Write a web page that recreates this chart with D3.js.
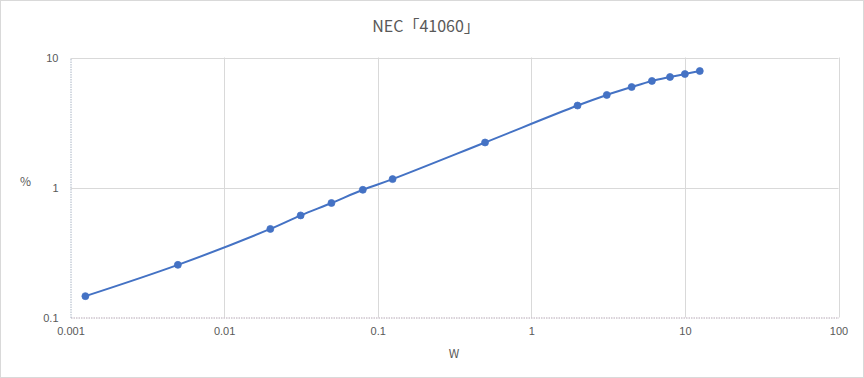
<!DOCTYPE html>
<html lang="ja">
<head>
  <meta charset="UTF-8">
  <title>NEC「41060」</title>
  <script src="https://d3js.org/d3.v7.min.js"></script>
  <style>
    body { margin: 0; background: #fff; }
    svg { display: block; font-family: "Noto Sans CJK JP", "Noto Sans", sans-serif; }
    .tick text { fill: #595959; font-size: 11px; }
  </style>
</head>
<body>
  <svg width="864" height="378"></svg>
  <script>
    // data
    const watts   = [0.00125, 0.005, 0.02, 0.0315, 0.05, 0.08, 0.125, 0.5, 2, 3.1, 4.5, 6.1, 8, 10, 12.5];
    const percent = [0.146, 0.254, 0.48, 0.61, 0.76, 0.96, 1.16, 2.22, 4.27, 5.15, 5.93, 6.6, 7.08, 7.46, 7.87];
    const xTicks = [0.001, 0.01, 0.1, 1, 10, 100];
    const yTicks = [0.1, 1, 10];

    const data = watts.map((w, i) => ({ w: w, p: percent[i] }));

    const svg = d3.select("svg"),
          width = +svg.attr("width"),
          height = +svg.attr("height");

    const margin = { left: 70.5, right: 25.5, top: 57.5, bottom: 60.5 };

    svg.append("rect")
      .attr("x", 0.5).attr("y", 0.5)
      .attr("width", width - 1).attr("height", height - 1)
      .attr("fill", "#fff").attr("stroke", "#d9d9d9");

    const x = d3.scaleLog().domain([0.001, 100]).range([margin.left, width - margin.right]);
    const y = d3.scaleLog().domain([0.1, 10]).range([height - margin.bottom, margin.top]);

    // gridlines
    svg.append("g")
      .selectAll("line")
      .data(xTicks.slice(1))
      .enter().append("line")
        .attr("x1", d => Math.round(x(d)) + 0.5).attr("x2", d => Math.round(x(d)) + 0.5)
        .attr("y1", y(10)).attr("y2", y(0.1))
        .attr("stroke", "#d9d9d9");
    svg.append("g")
      .selectAll("line")
      .data(yTicks.slice(1))
      .enter().append("line")
        .attr("x1", x(0.001)).attr("x2", x(100))
        .attr("y1", d => Math.round(y(d)) + 0.5).attr("y2", d => Math.round(y(d)) + 0.5)
        .attr("stroke", "#d9d9d9");

    // axes
    const fmt = d => String(d);
    const xAxis = svg.append("g")
      .attr("transform", `translate(0,${y(0.1)})`)
      .call(d3.axisBottom(x).tickValues(xTicks).tickFormat(fmt).tickSize(0).tickPadding(10));
    xAxis.select(".domain").attr("stroke", "#b4a7b4").attr("stroke-dasharray", "1.5,1");

    const yAxis = svg.append("g")
      .attr("transform", `translate(${x(0.001)},0)`)
      .call(d3.axisLeft(y).tickValues(yTicks).tickFormat(fmt).tickSize(0).tickPadding(12));
    yAxis.select(".domain").attr("stroke", "#a9b4c4").attr("stroke-dasharray", "1.5,1");

    // title and axis titles
    svg.append("text")
      .attr("x", 426).attr("y", 32)
      .attr("text-anchor", "middle")
      .attr("fill", "#595959").attr("font-size", "16px")
      .text("NEC「41060」");
    svg.append("text")
      .attr("x", 25.5).attr("y", 186)
      .attr("text-anchor", "middle")
      .attr("fill", "#595959").attr("font-size", "12px")
      .text("%");
    svg.append("text")
      .attr("x", 454).attr("y", 358)
      .attr("text-anchor", "middle")
      .attr("fill", "#595959").attr("font-size", "12px")
      .text("W");

    // series
    const line = d3.line()
      .x(d => x(d.w))
      .y(d => y(d.p))
      .curve(d3.curveCatmullRom);

    svg.append("path")
      .datum(data)
      .attr("d", line)
      .attr("fill", "none")
      .attr("stroke", "#4472c4")
      .attr("stroke-width", 2);

    svg.append("g")
      .selectAll("circle")
      .data(data)
      .enter().append("circle")
        .attr("cx", d => x(d.w))
        .attr("cy", d => y(d.p))
        .attr("r", 3.5)
        .attr("fill", "#4472c4")
        .attr("stroke", "#4472c4")
        .attr("stroke-width", 0.75);
  </script>
</body>
</html>
